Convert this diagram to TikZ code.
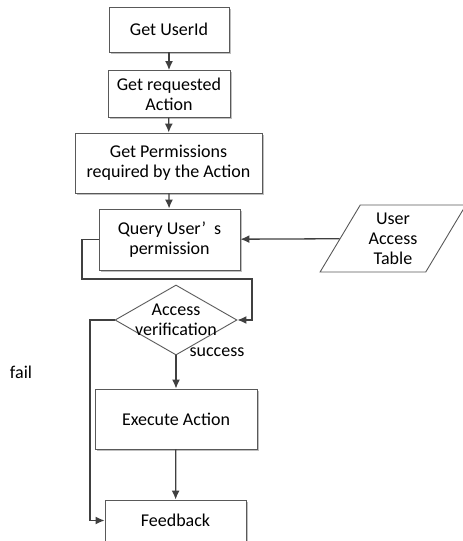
\documentclass[tikz,border=0pt]{standalone}
\usepackage{fontspec}
\setmainfont{Carlito}
\usetikzlibrary{arrows.meta}
\usetikzlibrary{shapes.geometric}
\usetikzlibrary{shadows}
\definecolor{linegray}{rgb}{0.25,0.25,0.25}
\definecolor{edgegray}{rgb}{0.35,0.35,0.35}

\tikzset{
  step box/.style={draw=edgegray,line width=0.9pt,fill=white,align=center,inner sep=2pt,
    drop shadow={shadow xshift=1.5pt,shadow yshift=-1.5pt,fill=black,opacity=0.25}},
  decision/.style={draw=edgegray,line width=0.9pt,fill=white,shape=diamond,inner sep=0pt},
  data/.style={draw=edgegray,line width=0.9pt,fill=white,shape=trapezium,trapezium stretches=true,
    trapezium left angle=60,trapezium right angle=120,align=center,inner sep=0pt},
  flow/.style={draw=linegray,line width=1.3pt,-{Latex[length=9pt,width=8pt]}},
  txt/.style={font=\fontsize{18}{20}\selectfont}
}

\begin{document}
\begin{tikzpicture}[x=1pt,y=-1pt,txt]
\useasboundingbox (0,0) rectangle (463,541);

% process steps
\node [step box,minimum width=120,minimum height=45] (userid) at (169,29.5) {Get UserId};
\node [step box,minimum width=122,minimum height=47] (action) at (169,94) {Get requested\\Action};
\node [step box,minimum width=187,minimum height=60] (perms) at (168.5,163) {Get Permissions\\required by the Action};
\node [step box,minimum width=141,minimum height=61] (query) at (169.5,239.5) {Query User’\ \ s\\permission};
\node [data,minimum width=146,minimum height=67] (table) at (393,238.5) {User\\Access\\Table};

% check
\node [decision,minimum width=122,minimum height=70] (check) at (176,320) {};
\node [align=center] (checktext) at (check.center) {Access\\verification};

% results
\node [step box,minimum width=162,minimum height=60] (execute) at (176,419) {Execute Action};
\node [step box,minimum width=141,minimum height=41] (feedback) at (175.5,520.5) {Feedback};

% arrows
\draw [flow] (userid) -- (action);
\draw [flow] (action) -- (perms);
\draw [flow] (perms) -- (query);
\draw [flow] (table) -- (query);
\draw [flow] (query.west) -| (82,279) -| (252,320) -- (check.east);
\draw [flow] (check.south) -- (execute);
\draw [flow] (execute) -- (feedback);
\draw [flow] (check.west) -| (90,520.5) -- (feedback.west);

% some text
\node (success) at (217,352) {success};
\node (fail) at (21,372) {fail};

\end{tikzpicture}
\end{document}
